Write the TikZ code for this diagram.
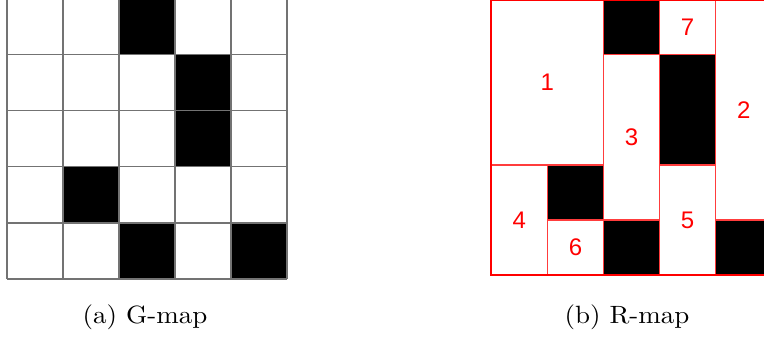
\documentclass[tikz,border=0pt]{standalone}
\usepackage{fontspec}
\newfontfamily\labfont{Liberation Sans}
\definecolor{regline}{RGB}{255,60,60}
\definecolor{regborder}{RGB}{255,0,0}
\definecolor{gridgray}{RGB}{115,115,115}
\begin{document}
\begin{tikzpicture}[x=1pt,y=-1pt,
  gline/.style={draw=gridgray, line width=1.2pt},
  rline/.style={draw=regline, line width=1.5pt},
  rborder/.style={draw=regborder, line width=2pt},
  blk/.style={fill=black},
  rlab/.style={text=regborder, font=\labfont\fontsize{24}{28}\selectfont, inner sep=0pt},
  captext/.style={inner sep=0pt, anchor=base}]
\useasboundingbox (0,0) rectangle (764,341);
\clip (0,0) rectangle (764,341);
% ---- G-map ----
\begin{scope}[shift={(7,-1.5)}, x=56pt, y=-56.1pt]
  \foreach \cc/\rr in {2/0,3/1,3/2,1/3,2/4,4/4} \fill[blk] (\cc,\rr) rectangle ++(1,1);
  \foreach \i in {0,...,5} {
    \draw[gline] (\i,0) -- (\i,5);
    \draw[gline] (0,\i) -- (5,\i);
  }
\end{scope}
% ---- R-map ----
\begin{scope}[shift={(491.3,-0.5)}, x=56.1pt, y=-55.16pt]
  \foreach \cc/\rr in {2/0,3/1,3/2,1/3,2/4,4/4} \fill[blk] (\cc,\rr) rectangle ++(1,1);
  \foreach \xa/\ya/\xb/\yb in {0/0/2/3, 3/0/4/1, 4/0/5/4, 2/1/3/4, 0/3/1/5, 1/4/2/5, 3/3/4/5}
    \draw[rline] (\xa,\ya) rectangle (\xb,\yb);
  \draw[rborder] (0,0) rectangle (5,5);
  \node[rlab] (r1) at (1,1.5) {1};
  \node[rlab] (r2) at (4.5,2) {2};
  \node[rlab] (r3) at (2.5,2.5) {3};
  \node[rlab] (r4) at (0.5,4) {4};
  \node[rlab] (r5) at (3.5,4) {5};
  \node[rlab] (r6) at (1.5,4.5) {6};
  \node[rlab] (r7) at (3.5,0.5) {7};
\end{scope}
% ---- captions ----
\node[captext] (capa) at (145,323.5) {\scalebox{2.7}[2.5]{\fontsize{10}{12}\selectfont (a) G-map}};
\node[captext] (capb) at (627,323.5) {\scalebox{2.7}[2.5]{\fontsize{10}{12}\selectfont (b) R-map}};
\end{tikzpicture}
\end{document}
